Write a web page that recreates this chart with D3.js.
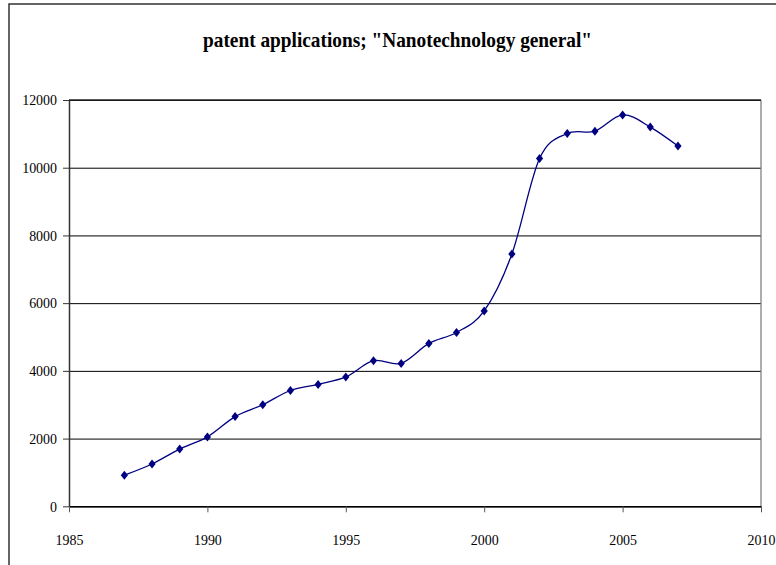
<!DOCTYPE html>
<html>
<head>
<meta charset="utf-8">
<script src="https://cdn.jsdelivr.net/npm/d3@7"></script>
<style>
  html, body { margin: 0; padding: 0; background: #fff; }
  svg { display: block; }
</style>
</head>
<body>
<svg id="chart" width="776" height="565"></svg>
<script>
const titleText = 'patent applications; "Nanotechnology general"';
const years = [1987, 1988, 1989, 1990, 1991, 1992, 1993, 1994, 1995, 1996, 1997,
               1998, 1999, 2000, 2001, 2002, 2003, 2004, 2005, 2006, 2007];
const applications = [920, 1250, 1690, 2050, 2650, 3000, 3420, 3600, 3820, 4300, 4220,
                      4810, 5135, 5770, 7450, 10270, 11010, 11080, 11560, 11200, 10640];
const xTicks = [1985, 1990, 1995, 2000, 2005, 2010];
const yTicks = [0, 2000, 4000, 6000, 8000, 10000, 12000];

const serif = "Liberation Serif";
const svg = d3.select("#chart");
const plotLeft = 69, plotRight = 761, plotTop = 100, plotBottom = 506.3;

// outer chart frame
svg.append("rect")
  .attr("x", 9).attr("y", 4).attr("width", 820).attr("height", 620)
  .attr("fill", "#fff").attr("stroke", "#333").attr("stroke-width", 1.5);

const x = d3.scaleLinear().domain([1985, 2010]).range([plotLeft, plotRight]);
const y = d3.scaleLinear().domain([0, 12000]).range([plotBottom, plotTop]);

// gridlines
svg.append("g")
  .attr("transform", `translate(${plotLeft},0)`)
  .call(d3.axisLeft(y).tickValues(yTicks).tickSize(-(plotRight - plotLeft)).tickFormat(""))
  .call(g => g.select(".domain").remove())
  .call(g => g.selectAll("line").attr("stroke", "#000").attr("stroke-width", 1));

// plot area borders
svg.append("line")
  .attr("x1", plotRight).attr("x2", plotRight).attr("y1", plotTop).attr("y2", plotBottom)
  .attr("stroke", "#777").attr("stroke-width", 1.2);
svg.append("line")
  .attr("x1", plotLeft).attr("x2", plotRight).attr("y1", plotTop).attr("y2", plotTop)
  .attr("stroke", "#222").attr("stroke-width", 1.5);

// y axis
const yAxis = svg.append("g")
  .attr("transform", `translate(${plotLeft},0)`)
  .call(d3.axisLeft(y).tickValues(yTicks).tickSizeInner(6).tickSizeOuter(0).tickPadding(6).tickFormat(d3.format("d")));
yAxis.attr("font-family", serif).attr("font-size", 15);
yAxis.select(".domain").attr("stroke", "#333").attr("stroke-width", 1.5);
yAxis.selectAll(".tick line").attr("stroke", "#333");
yAxis.selectAll("text")
  .attr("font-family", serif).attr("font-size", 15).attr("fill", "#000")
  .attr("transform", "scale(0.93,1)").attr("x", -12 / 0.93);

// x axis
const xAxis = svg.append("g")
  .attr("transform", `translate(0,${plotBottom})`)
  .call(d3.axisBottom(x).tickValues(xTicks).tickSizeInner(6).tickSizeOuter(0).tickPadding(22).tickFormat(d3.format("d")));
xAxis.attr("font-family", serif).attr("font-size", 15);
xAxis.select(".domain").attr("stroke", "#000").attr("stroke-width", 1.5);
xAxis.selectAll(".tick line").attr("stroke", "#555");
xAxis.selectAll("text")
  .attr("font-family", serif).attr("font-size", 15).attr("fill", "#000")
  .attr("transform", "scale(0.93,1)");

// line
const line = d3.line()
  .x((d, i) => x(years[i]))
  .y(d => y(d))
  .curve(d3.curveCardinal.tension(0));
svg.append("path")
  .datum(applications)
  .attr("fill", "none")
  .attr("stroke", "#000080")
  .attr("stroke-width", 1.3)
  .attr("d", line);

// markers
svg.append("g").selectAll("path")
  .data(applications)
  .join("path")
  .attr("transform", (d, i) => `translate(${x(years[i])},${y(d)})`)
  .attr("d", "M0,-4.5L3.6,0L0,4.5L-3.6,0Z")
  .attr("fill", "#000080");

// title
svg.append("text")
  .attr("x", 397.5).attr("y", 47)
  .attr("text-anchor", "middle")
  .attr("font-family", serif)
  .attr("font-weight", "bold")
  .attr("font-size", 21)
  .attr("textLength", 389)
  .attr("lengthAdjust", "spacingAndGlyphs")
  .text(titleText);
</script>
</body>
</html>
